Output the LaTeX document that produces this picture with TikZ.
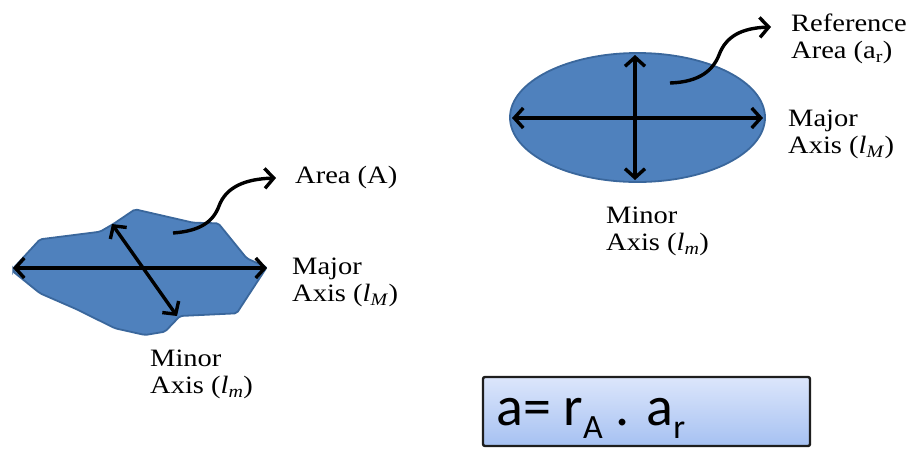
\documentclass[tikz,border=0pt]{standalone}
\usepackage{fontspec}
\setmainfont{Liberation Serif}[FakeStretch=1.14]
\newfontfamily\boxfont{Carlito}
\usetikzlibrary{arrows.meta,shapes.geometric}
\definecolor{shapeblue}{HTML}{4F81BD}
\definecolor{shapeedge}{HTML}{3A679C}
\definecolor{boxtop}{HTML}{DCE6FB}
\definecolor{boxbot}{HTML}{A6C1F2}
\definecolor{boxedge}{HTML}{1E1E1E}
\tikzset{
  axisarrow/.style={line width=3.4pt, {Straight Barb[length=9pt,width=20pt,line width=3.4pt]}-{Straight Barb[length=9pt,width=20pt,line width=3.4pt]}},
  pointarrow/.style={line width=3.4pt, -{Straight Barb[length=9pt,width=20pt,line width=3.4pt]}},
  shapefill/.style={fill=shapeblue, draw=shapeedge, line width=1.8pt},
  lbl/.style={anchor=base west, inner sep=0pt, font=\fontsize{25}{27.5}\selectfont},
}
\newcommand{\twoline}[2]{\begin{tabular}[t]{@{}l@{}}#1\\#2\end{tabular}}
\begin{document}
\begin{tikzpicture}[x=1pt,y=-1pt]
\useasboundingbox (0,0) rectangle (912,448);
% irregular blob
\path[shapefill, rounded corners=2pt]
 (13.3,268.3) -- (40,239.3) -- (100,231.7) -- (113.3,224) -- (135,209.3)
 -- (193.3,222.7) -- (218.3,223.3) -- (246.7,258.3) -- (266.7,267.3)
 -- (236.7,313.3) -- (180,316) -- (165,331.7) -- (145,335) -- (115,328.3)
 -- (76.7,309.3) -- (40,293.3) -- (13.3,271.7) -- cycle;
\coordinate (bML) at (13,268);
\coordinate (bMR) at (267,268);
\coordinate (bmT) at (112,224);
\coordinate (bmB) at (177,316);
\coordinate (bS) at (173,233);
\coordinate (bE) at (276,178);
\draw[axisarrow] (bML) -- (bMR);
\draw[axisarrow] (bmT) -- (bmB);
\draw[pointarrow] (bS) .. controls (200,231) and (213,222) .. (219,206) .. controls (226,187) and (245,179) .. (bE);
% ellipse
\node[shapefill, ellipse, minimum width=255pt, minimum height=129pt, inner sep=0pt] (ell) at (637.5,117.5) {};
\coordinate (eML) at (512,118);
\coordinate (eMR) at (763,118);
\coordinate (emT) at (635,55);
\coordinate (emB) at (635,180);
\coordinate (eS) at (670,83);
\coordinate (eE) at (771,27);
\draw[axisarrow] (eML) -- (eMR);
\draw[axisarrow] (emT) -- (emB);
\draw[pointarrow] (eS) .. controls (700,82) and (713,70) .. (719,55) .. controls (726,36) and (742,28) .. (eE);
% labels
\node[lbl] (areaA) at (295,183) {Area (A)};
\node[lbl] (majL) at (292,274) {\twoline{Major}{Axis (\textit{l}\textsubscript{\textit{M}})}};
\node[lbl] (minL) at (150,366) {\twoline{Minor}{Axis (\textit{l}\textsubscript{\textit{m}})}};
\node[lbl] (refA) at (791,31) {\twoline{Reference}{Area (a\textsubscript{r})}};
\node[lbl] (majR) at (788,126) {\twoline{Major}{Axis (\textit{l}\textsubscript{\textit{M}})}};
\node[lbl] (minR) at (606,223) {\twoline{Minor}{Axis (\textit{l}\textsubscript{\textit{m}})}};
% formula box
\node[draw=boxedge, line width=2.4pt, rounded corners=2pt, top color=boxtop, bottom color=boxbot,
      minimum width=327pt, minimum height=69pt, inner sep=0pt] (fbox) at (646.5,411.5) {};
\node[anchor=base west, inner sep=0pt, font=\boxfont\fontsize{56}{60}\selectfont] (ftext) at (496,425)
 {a= r\raisebox{-13pt}{\fontsize{34}{34}\selectfont A} . a\raisebox{-13pt}{\fontsize{34}{34}\selectfont r}};
\end{tikzpicture}
\end{document}
